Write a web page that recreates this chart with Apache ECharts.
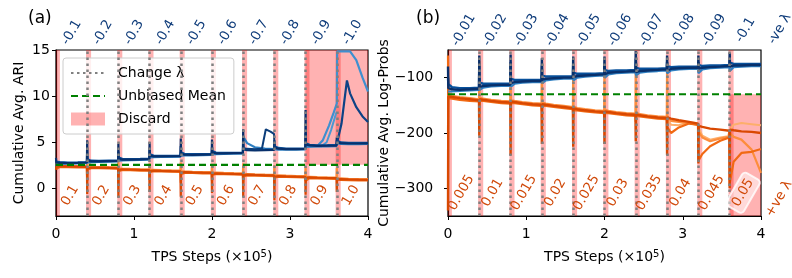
<!DOCTYPE html>
<html><head><meta charset="utf-8">
<script src="https://cdn.jsdelivr.net/npm/echarts@6/dist/echarts.min.js"></script>
<style>html,body{margin:0;padding:0;background:#fff}#c{width:792px;height:278px}</style>
</head><body><div id="c"></div>
<script>
// ---------- shared x samples (TPS steps, x1e5) ----------
const xs = [0,0.004,0.05,0.15,0.28,0.396, 0.4,0.404,0.45,0.55,0.68,0.796, 0.8,0.804,0.85,0.95,1.08,1.196,
  1.2,1.204,1.25,1.35,1.48,1.596, 1.6,1.604,1.65,1.75,1.88,1.996, 2,2.004,2.05,2.15,2.28,2.396,
  2.4,2.404,2.45,2.55,2.68,2.796, 2.8,2.804,2.85,2.95,3.08,3.196, 3.2,3.204,3.25,3.35,3.48,3.596,
  3.6,3.604,3.65,3.75,3.88,4];
const stageStarts = [0,0.4,0.8,1.2,1.6,2.0,2.4,2.8,3.2,3.6];
const switchSteps = [0.4,0.8,1.2,1.6,2.0,2.4,2.8,3.2,3.6];

// ---------- panel (a): ARI ----------
const aTopLabels = ['-0.1','-0.2','-0.3','-0.4','-0.5','-0.6','-0.7','-0.8','-0.9','-1.0'];
const aBottomLabels = ['0.1','0.2','0.3','0.4','0.5','0.6','0.7','0.8','0.9','1.0'];
const aMean = 2.55;
const aBlue1 = [3.3,2.8,2.75,2.74,2.77,2.8, 5.2,3.0,2.92,2.92,2.95,2.97, 4.8,3.2,3.12,3.12,3.15,3.18,
  5.0,3.55,3.47,3.46,3.48,3.5, 5.4,3.75,3.64,3.63,3.66,3.68, 5.3,3.9,3.8,3.79,3.81,3.83,
  6.4,4.25,4.15,4.12,4.14,4.16, 5.2,4.4,4.3,4.25,4.26,4.28, 8.5,4.75,4.65,4.6,4.62,4.64,
  5.5,5.0,4.9,4.86,4.86,4.88];
const aBlue2 = [2.9,2.95,2.85,2.8,2.82,2.85, 4.2,3.15,3.0,2.97,3.0,3.02, 4.0,3.35,3.2,3.18,3.2,3.22,
  4.4,3.7,3.55,3.52,3.53,3.55, 4.6,3.9,3.72,3.7,3.71,3.73, 4.5,4.05,3.88,3.85,3.86,3.88,
  5.0,4.4,4.22,4.18,4.2,4.22, 4.8,4.55,4.38,4.32,4.32,4.34, 6.0,4.9,4.72,4.67,4.68,4.7,
  5.2,5.15,4.98,4.93,4.92,4.94];
const aBlue3 = [2.6,2.65,2.66,2.67,2.7,2.72, 3.5,2.8,2.84,2.86,2.89,2.91, 3.6,3.0,3.04,3.06,3.09,3.12,
  3.8,3.35,3.38,3.4,3.42,3.44, 3.9,3.55,3.56,3.57,3.6,3.62, 4.0,3.7,3.72,3.73,3.75,3.77,
  5.6,5.4,4.9,4.45,4.3,4.25, 4.4,4.15,4.2,4.19,4.2,4.22, 4.8,4.5,4.56,4.55,4.56,4.58,
  4.9,4.75,4.82,4.8,4.8,4.82];
const aOr1 = [2.0,2.32,2.4,2.38,2.35,2.33, -0.6,2.2,2.26,2.25,2.22,2.2, -1.0,2.0,2.06,2.04,2.0,1.98,
  -0.4,1.88,1.93,1.9,1.87,1.85, -0.9,1.7,1.76,1.73,1.7,1.68, -0.5,1.58,1.63,1.6,1.57,1.55,
  -0.9,1.42,1.48,1.45,1.42,1.4, -1.3,1.28,1.33,1.3,1.27,1.25, -0.7,1.13,1.18,1.15,1.12,1.1,
  -0.4,0.95,1.0,0.97,0.94,0.92];
const aOr2 = [2.1,2.2,2.3,2.3,2.28,2.26, 0.8,2.05,2.18,2.18,2.15,2.13, 0.5,1.85,1.98,1.97,1.93,1.91,
  0.9,1.75,1.85,1.83,1.8,1.78, 0.6,1.55,1.68,1.66,1.63,1.61, 0.8,1.45,1.55,1.53,1.5,1.48,
  0.6,1.3,1.4,1.38,1.35,1.33, 0.4,1.15,1.25,1.23,1.2,1.18, 0.8,1.0,1.1,1.08,1.05,1.03,
  0.9,0.85,0.92,0.9,0.87,0.85];
const aOr3 = [2.5,2.45,2.47,2.45,2.42,2.4, 3.0,2.35,2.33,2.31,2.29,2.27, 2.9,2.15,2.13,2.1,2.07,2.05,
  2.7,2.0,2.0,1.97,1.94,1.92, 2.8,1.85,1.83,1.8,1.77,1.75, 2.6,1.7,1.7,1.67,1.64,1.62,
  2.7,1.55,1.55,1.52,1.49,1.47, 2.5,1.4,1.4,1.37,1.34,1.32, 2.4,1.25,1.25,1.22,1.19,1.17,
  2.2,1.08,1.07,1.04,1.01,0.99];
// outlier runs in (a)
const aRunAX = [2.4,2.45,2.55,2.64,2.69,2.75,2.795,2.8,2.805];
const aRunAY = [4.2,4.3,4.25,4.3,6.4,6.15,5.9,5.0,4.4];
const aRunBX = [3.2,3.25,3.35,3.42,3.5,3.56,3.6,3.604,3.7,3.77,3.85,3.93,4.0];
const aRunBY = [4.6,4.55,4.6,5.2,6.8,8.2,9.2,14.85,14.85,14.85,13.9,12.0,10.5];
const aRunCX = [3.2,3.3,3.4,3.47,3.53,3.59,3.6];
const aRunCY = [4.5,4.55,4.55,5.0,6.4,8.1,8.3];
const aRunDX = [3.6,3.62,3.66,3.73,3.77,3.85,3.93,4.0];
const aRunDY = [4.8,5.0,7.0,11.7,10.3,8.8,7.8,7.2];

// ---------- panel (b): Log-Probs ----------
const bTopLabels = ['-0.01','-0.02','-0.03','-0.04','-0.05','-0.06','-0.07','-0.08','-0.09','-0.1'];
const bBottomLabels = ['0.005','0.01','0.015','0.02','0.025','0.03','0.035','0.04','0.045','0.05'];
const bMean = -130;
const bBlue1 = [-80,-119,-121,-122,-121,-120, -60,-117,-115,-114,-113,-113, -58,-110,-108,-107,-106,-106,
  -65,-104,-102,-101,-100,-100, -62,-99,-97,-96,-95,-94, -62,-94,-91,-90,-89,-88,
  -52,-90,-88,-87,-86,-85, -60,-87,-84,-83,-82,-82, -60,-84,-82,-81,-80,-79,
  -55,-80,-78,-78,-77,-77];
const bBlue2 = [-100,-112,-117,-119,-119,-118, -75,-109,-111,-111,-111,-111, -72,-102,-104,-104,-104,-104,
  -78,-96,-98,-98,-98,-98, -75,-91,-93,-93,-93,-92, -75,-86,-88,-87,-87,-86,
  -66,-82,-84,-84,-84,-83, -72,-79,-81,-80,-80,-80, -72,-77,-79,-78,-78,-77,
  -68,-73,-75,-75,-75,-75];
const bBlue3 = [-125,-126,-125,-124,-123,-122, -95,-122,-118,-116,-115,-115, -92,-116,-111,-109,-108,-108,
  -95,-110,-105,-103,-102,-102, -95,-105,-100,-98,-97,-96, -95,-100,-94,-92,-91,-90,
  -88,-96,-91,-89,-88,-87, -92,-92,-87,-85,-84,-84, -92,-90,-85,-83,-82,-81,
  -88,-86,-81,-80,-79,-79];
const bOr1 = [-340,-134,-135,-137,-139,-141, -205,-139,-140,-142,-144,-145, -240,-143,-144,-146,-148,-149,
  -220,-148,-149,-151,-153,-155, -225,-155,-157,-159,-161,-162, -220,-161,-162,-164,-166,-167,
  -215,-166,-168,-170,-172,-173, -240,-172,-174,-177,-180,-183, -255,-187,-189,-192,-194,-196,
  -300,-194,-195,-197,-198,-200];
const bOr2 = [-60,-137,-138,-140,-142,-143, -150,-142,-142,-144,-146,-147, -160,-146,-146,-148,-150,-151,
  -160,-151,-151,-153,-155,-157, -170,-158,-159,-161,-163,-164, -175,-164,-164,-166,-168,-169,
  -180,-169,-170,-172,-174,-175, -200,-190,-200,-190,-183,-185, -250,-252,-238,-224,-214,-208,
  -292,-288,-252,-236,-234,-229];
const bOr3 = [-200,-132,-133,-135,-137,-139, -70,-136,-138,-140,-142,-143, -75,-141,-142,-144,-146,-147,
  -80,-145,-147,-149,-151,-153, -85,-152,-155,-157,-159,-160, -80,-158,-160,-162,-164,-165,
  -80,-163,-166,-168,-170,-171, -80,-170,-178,-180,-182,-186, -190,-198,-208,-215,-210,-207,
  -200,-203,-207,-212,-230,-272];
const bPeachX = [2.8,2.85,2.95,3.08,3.18,3.2,3.25,3.35,3.48,3.58,3.6,3.65,3.75,3.88,4.0];
const bPeachY = [-175,-185,-186,-181,-182,-190,-205,-212,-208,-206,-195,-185,-182,-184,-186];

// ---------- styling ----------
const FONT = 'DejaVu Sans';
const BLUE_LBL = '#0f3c7a', ORANGE_LBL = '#d04808';
const DISCARD = 'rgba(255,0,0,0.3)';
const pts = (xa, ya) => xa.map((x, i) => [x, ya[i]]);
function lineS(gi, data, color, width, z) {
  return {type:'line', xAxisIndex:gi, yAxisIndex:gi, data, showSymbol:false, symbol:'none',
    lineStyle:{color, width}, z: z || 3, silent:true, animation:false, clip:true};
}
function labelS(gi, items, color, extra) {
  return {type:'scatter', xAxisIndex:gi, yAxisIndex:gi, symbolSize:1, clip:false, silent:true, z:10,
    itemStyle:{color:'rgba(0,0,0,0)', opacity:1}, data: items,
    label:Object.assign({show:true, position:'inside', rotate:60, formatter:'{b}', color, opacity:1,
      textBorderWidth:0, fontSize:13.5, fontFamily:FONT, align:'center', verticalAlign:'middle'}, extra || {})};
}
function discardSeries(gi, big) {
  const areas = stageStarts.map(s => [{xAxis: Math.max(0, s - 0.015)}, {xAxis: s + 0.05}]);
  areas.push(big);
  return {type:'line', name:'Discard', xAxisIndex:gi, yAxisIndex:gi, data:[], symbol:'none', z:1,
    itemStyle:{color:DISCARD}, lineStyle:{color:DISCARD},
    markArea:{silent:true, itemStyle:{color:DISCARD}, data:areas}};
}
function changeSeries(gi) {
  return {type:'line', name:'Change λ', xAxisIndex:gi, yAxisIndex:gi, data:[], symbol:'none', z:8,
    itemStyle:{color:'#808080'}, lineStyle:{color:'#808080', width:2.5, type:[2.5,3.5]},
    markLine:{silent:true, symbol:['none','none'], label:{show:false},
      lineStyle:{color:'#808080', width:2.5, type:[2.5,3.5]},
      data: switchSteps.map(s => ({xAxis:s}))}};
}
function meanSeries(gi, v) {
  return {type:'line', name:'Unbiased Mean', xAxisIndex:gi, yAxisIndex:gi, data:[[0,v],[4,v]],
    symbol:'none', z:6, silent:true, itemStyle:{color:'#008000'},
    lineStyle:{color:'#008000', width:2.2, type:[7,4]}};
}
const minus = v => (v < 0 ? '\u2212' + Math.abs(v) : String(v));

const series = [
  discardSeries(0, [{xAxis:3.2, yAxis:aMean}, {xAxis:4, yAxis:15}]),
  discardSeries(1, [{xAxis:3.6, yAxis:-350}, {xAxis:4, yAxis:bMean}]),
  // (a)
  lineS(0, pts(xs, aOr3), '#fd8d3c', 2.2),
  lineS(0, pts(xs, aOr2), '#f16913', 2.2),
  lineS(0, pts(xs, aOr1), '#d94801', 2.2),
  lineS(0, pts(aRunCX, aRunCY), '#4a98d3', 2),
  lineS(0, pts(aRunBX, aRunBY), '#3f8fcf', 2.2),
  lineS(0, pts(xs, aBlue3), '#2f7fc1', 2.2),
  lineS(0, pts(xs, aBlue2), '#08519c', 2.2),
  lineS(0, pts(xs, aBlue1), '#08306b', 2.2),
  lineS(0, pts(aRunAX, aRunAY), '#0b3d7a', 2),
  lineS(0, pts(aRunDX, aRunDY), '#0d4285', 2.2),
  // (b)
  lineS(1, pts(bPeachX, bPeachY), '#fdae6b', 2),
  lineS(1, pts(xs, bOr3), '#fd8d3c', 2.2),
  lineS(1, pts(xs, bOr2), '#f16913', 2.2),
  lineS(1, pts(xs, bOr1), '#d94801', 2.4),
  lineS(1, pts(xs, bBlue3), '#2f7fc1', 2.2),
  lineS(1, pts(xs, bBlue2), '#08519c', 2.4),
  lineS(1, pts(xs, bBlue1), '#08306b', 2.4),
  meanSeries(0, aMean), meanSeries(1, bMean),
  changeSeries(0), changeSeries(1),
  // text labels
  labelS(0, aTopLabels.map((t, i) => ({name:t, value:[stageStarts[i] + 0.2, 16.9]})), BLUE_LBL),
  labelS(0, aBottomLabels.map((t, i) => ({name:t, value:[stageStarts[i] + 0.18, -0.78]})), ORANGE_LBL),
  labelS(1, bTopLabels.map((t, i) => ({name:t, value:[stageStarts[i] + 0.2, -14]})), BLUE_LBL),
  labelS(1, bBottomLabels.map((t, i) => {
    const it = {name:t, value:[stageStarts[i] + 0.17, -308]};
    if (i === 9) it.label = {backgroundColor:'rgba(255,255,255,0.5)', borderRadius:4, padding:[3,4],
      borderColor:'rgba(255,255,255,0.8)', borderWidth:1};
    return it;
  }), ORANGE_LBL),
  labelS(1, [{name:'-ve λ', value:[4.24, -12]}], BLUE_LBL),
  labelS(1, [{name:'+ve λ', value:[4.23, -319]}], ORANGE_LBL)
];

const axisCommon = {
  axisLine:{show:true, onZero:false, lineStyle:{color:'#000', width:1.2}},
  axisTick:{show:true, inside:false, length:4, lineStyle:{color:'#000', width:1}},
  splitLine:{show:false},
  axisLabel:{color:'#000', fontSize:14, fontFamily:FONT}
};
function xAx(gi) {
  return Object.assign({}, axisCommon, {type:'value', gridIndex:gi, min:0, max:4, interval:1,
    axisLabel:{color:'#000', fontSize:14, fontFamily:FONT, margin:11},
    name:'TPS Steps (×10{s|5})', nameLocation:'middle', nameGap:33,
    nameTextStyle:{color:'#000', fontSize:14, fontFamily:FONT,
      rich:{s:{fontSize:10, fontFamily:FONT, padding:[0,0,7,0]}}}});
}
function yAx(gi, min, max, ticks, name, gap, margin) {
  return Object.assign({}, axisCommon, {type:'value', gridIndex:gi, min, max,
    axisTick:{show:true, length:4, customValues:ticks, lineStyle:{color:'#000'}},
    axisLabel:{color:'#000', fontSize:14, fontFamily:FONT, customValues:ticks, formatter:minus,
      align:'center', margin},
    name, nameLocation:'middle', nameGap:gap, nameRotate:90,
    nameTextStyle:{color:'#000', fontSize:14, fontFamily:FONT}});
}

const option = {
  animation:false,
  title:[
    {text:'(a)', left:28, top:10, padding:0, textStyle:{fontSize:17, fontWeight:'normal', fontFamily:FONT, color:'#000'}},
    {text:'(b)', left:416, top:10, padding:0, textStyle:{fontSize:17, fontWeight:'normal', fontFamily:FONT, color:'#000'}}
  ],
  grid:[
    {left:56, top:50, width:312, height:166, show:true, borderColor:'#000', borderWidth:1.2, backgroundColor:'transparent'},
    {left:448, top:50, width:313, height:166, show:true, borderColor:'#000', borderWidth:1.2, backgroundColor:'transparent'}
  ],
  xAxis:[xAx(0), xAx(1)],
  yAxis:[
    yAx(0, -3, 15, [0,5,10,15], 'Cumulative Avg. ARI', 30, 15),
    yAx(1, -350, -50, [-300,-200,-100], 'Cumulative Avg. Log-Probs', 48, 34)
  ],
  legend:{left:63, top:58, orient:'vertical', itemWidth:34, itemHeight:13, itemGap:9,
    padding:[8,8,8,7], backgroundColor:'rgba(255,255,255,0.8)', borderColor:'#cccccc', borderWidth:1,
    borderRadius:3, selectedMode:false,
    textStyle:{fontSize:14, fontFamily:FONT, color:'#000', padding:[0,0,0,8]},
    data:[
      {name:'Change λ', itemStyle:{opacity:0}},
      {name:'Unbiased Mean', itemStyle:{opacity:0}},
      {name:'Discard', icon:'rect', itemStyle:{color:DISCARD}}
    ]},
  series
};
const chart = echarts.init(document.getElementById('c'), null, {renderer:'canvas'});
chart.setOption(option);
</script></body></html>
